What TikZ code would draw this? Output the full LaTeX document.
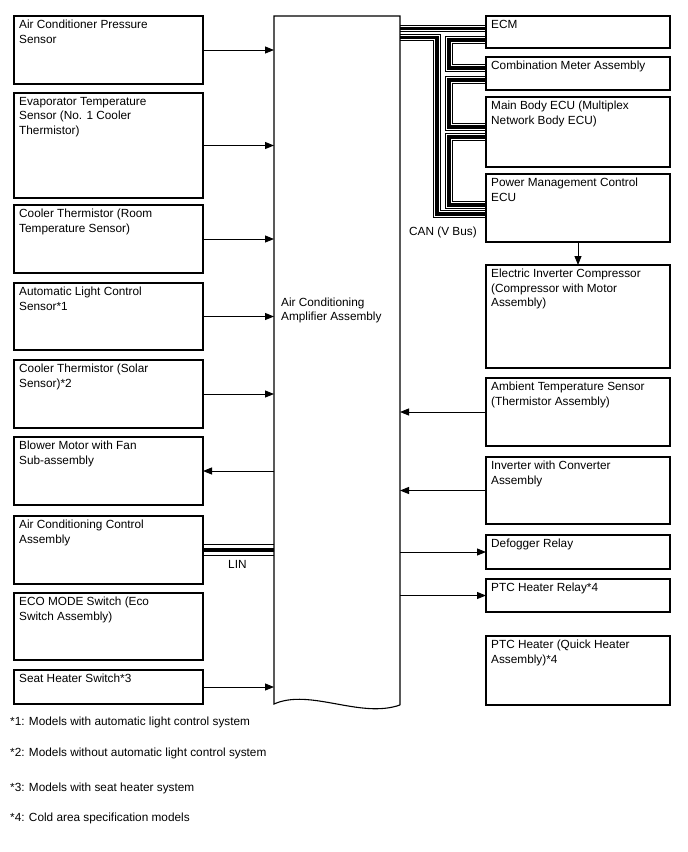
\documentclass[tikz,border=0pt]{standalone}
\usepackage{fontspec}
\setmainfont{Liberation Sans}
\usetikzlibrary{arrows.meta}
\pgfdeclarelayer{bg}
\pgfsetlayers{bg,main}
\begin{document}
\begin{tikzpicture}[x=1pt,y=1pt,
  box/.style={draw, line width=1.1pt, anchor=north west, inner sep=0pt, outer sep=0pt},
  lbox/.style={box, minimum width=189pt},
  rbox/.style={box, minimum width=184pt},
  txt/.style={anchor=north west, align=left, inner sep=0pt, font=\fontsize{11.8}{14.6}\selectfont},
  ftxt/.style={anchor=base west, inner sep=0pt, font=\fontsize{11.8}{14.6}\selectfont},
  arr/.style={line width=0.9pt, -{Triangle[length=9pt,width=7pt]}},
  cable/.style={line width=3.2pt, preaction={draw, line width=7.6pt}, preaction={draw, white, line width=5.6pt}},
  lincable/.style={line width=3.2pt, preaction={draw, line width=12pt}, preaction={draw, white, line width=10pt}}
]
\begin{pgfonlayer}{bg}
\fill[white] (0,0) rectangle (688,-852);
\end{pgfonlayer}
\path[use as bounding box] (0,0) rectangle (688,-852);

% central block
\node[anchor=north west, minimum width=126pt, minimum height=688pt, inner sep=0pt, outer sep=0pt] (amp) at (274,-16) {};
\draw[line width=1.1pt] ([yshift=-1pt]amp.south east) -- (amp.north east) -- (amp.north west) -- (amp.south west)
  .. controls (310,-688) and (360,-719) .. ([yshift=-1pt]amp.south east);
\node[txt] (tamp) at (281,-297.5) {Air Conditioning\\Amplifier Assembly};

% left boxes
\node[lbox, minimum height=68pt] (l1) at (14,-16) {};
\node[lbox, minimum height=105pt] (l2) at (14,-93) {};
\node[lbox, minimum height=68pt] (l3) at (14,-205) {};
\node[lbox, minimum height=67pt] (l4) at (14,-283) {};
\node[lbox, minimum height=68pt] (l5) at (14,-360) {};
\node[lbox, minimum height=68pt] (l6) at (14,-437) {};
\node[lbox, minimum height=68pt] (l7) at (14,-516) {};
\node[lbox, minimum height=67pt] (l8) at (14,-593) {};
\node[lbox, minimum height=34pt] (l9) at (14,-670) {};

\node[txt] (tl1) at ([shift={(5pt,-4pt)}]l1.north west) {Air Conditioner Pressure\\Sensor};
\node[txt] (tl2) at ([shift={(5pt,-4pt)}]l2.north west) {Evaporator Temperature\\Sensor (No. 1 Cooler\\Thermistor)};
\node[txt] (tl3) at ([shift={(5pt,-4pt)}]l3.north west) {Cooler Thermistor (Room\\Temperature Sensor)};
\node[txt] (tl4) at ([shift={(5pt,-4pt)}]l4.north west) {Automatic Light Control\\Sensor*1};
\node[txt] (tl5) at ([shift={(5pt,-4pt)}]l5.north west) {Cooler Thermistor (Solar\\Sensor)*2};
\node[txt] (tl6) at ([shift={(5pt,-4pt)}]l6.north west) {Blower Motor with Fan\\Sub-assembly};
\node[txt] (tl7) at ([shift={(5pt,-4pt)}]l7.north west) {Air Conditioning Control\\Assembly};
\node[txt] (tl8) at ([shift={(5pt,-4pt)}]l8.north west) {ECO MODE Switch (Eco\\Switch Assembly)};
\node[txt] (tl9) at ([shift={(5pt,-4pt)}]l9.north west) {Seat Heater Switch*3};

% right boxes
\node[rbox, minimum height=32pt] (r1) at (486,-16) {};
\node[rbox, minimum height=33pt] (r2) at (486,-57) {};
\node[rbox, minimum height=70pt] (r3) at (486,-97) {};
\node[rbox, minimum height=68pt] (r4) at (486,-174) {};
\node[rbox, minimum height=103pt] (r5) at (486,-265) {};
\node[rbox, minimum height=68pt] (r6) at (486,-378) {};
\node[rbox, minimum height=67pt] (r7) at (486,-457) {};
\node[rbox, minimum height=34pt] (r8) at (486,-535) {};
\node[rbox, minimum height=33pt] (r9) at (486,-579) {};
\node[rbox, minimum height=69pt] (r10) at (486,-636) {};

\node[txt] (tr1) at ([shift={(5pt,-4pt)}]r1.north west) {ECM};
\node[txt] (tr2) at ([shift={(5pt,-4pt)}]r2.north west) {Combination Meter Assembly};
\node[txt] (tr3) at ([shift={(5pt,-4pt)}]r3.north west) {Main Body ECU (Multiplex\\Network Body ECU)};
\node[txt] (tr4) at ([shift={(5pt,-4pt)}]r4.north west) {Power Management Control\\ECU};
\node[txt] (tr5) at ([shift={(5pt,-4pt)}]r5.north west) {Electric Inverter Compressor\\(Compressor with Motor\\Assembly)};
\node[txt] (tr6) at ([shift={(5pt,-4pt)}]r6.north west) {Ambient Temperature Sensor\\(Thermistor Assembly)};
\node[txt] (tr7) at ([shift={(5pt,-4pt)}]r7.north west) {Inverter with Converter\\Assembly};
\node[txt] (tr8) at ([shift={(5pt,-4pt)}]r8.north west) {Defogger Relay};
\node[txt] (tr9) at ([shift={(5pt,-4pt)}]r9.north west) {PTC Heater Relay*4};
\node[txt] (tr10) at ([shift={(5pt,-4pt)}]r10.north west) {PTC Heater (Quick Heater\\Assembly)*4};

% arrows
\draw[arr] (l1.east) -- (l1.east -| amp.west);
\draw[arr] (l2.east) -- (l2.east -| amp.west);
\draw[arr] (l3.east) -- (l3.east -| amp.west);
\draw[arr] (l4.east) -- (l4.east -| amp.west);
\draw[arr] (l5.east) -- (l5.east -| amp.west);
\draw[arr] (l6.east -| amp.west) -- (l6.east);
\draw[arr] (l9.east) -- (l9.east -| amp.west);
\draw[arr] (r6.west) -- (r6.west -| amp.east);
\draw[arr] (r7.west) -- (r7.west -| amp.east);
\draw[arr] (r8.west -| amp.east) -- (r8.west);
\draw[arr] (r9.west -| amp.east) -- (r9.west);
\draw[arr] (r4.south) -- (r5.north);

% buses
\begin{pgfonlayer}{bg}
\draw[cable] ([yshift=-12.5pt]amp.north east) -- ([yshift=-12.5pt]r1.north west);
\draw[cable] ([yshift=-21.5pt]amp.north east) -- ++(37,0) |- ([yshift=-40pt]r4.north west);
\draw[cable] ([yshift=-24pt]r1.north west) -- ++(-37,0) |- ([yshift=-11pt]r2.north west);
\draw[cable] ([yshift=-23pt]r2.north west) -- ++(-37,0) |- ([yshift=-30pt]r3.north west);
\draw[cable] ([yshift=-40pt]r3.north west) -- ++(-37,0) |- ([yshift=-31pt]r4.north west);
\draw[lincable] (l7.east) -- (l7.east -| amp.west);
\end{pgfonlayer}
\node[ftxt] (can) at (409,-235) {CAN (V Bus)};
\node[ftxt] (lin) at (228,-568) {LIN};

% footnotes
\node[ftxt] (f1) at (10,-725) {*1: Models with automatic light control system};
\node[ftxt] (f2) at (10,-756) {*2: Models without automatic light control system};
\node[ftxt] (f3) at (10,-791) {*3: Models with seat heater system};
\node[ftxt] (f4) at (10,-821) {*4: Cold area specification models};
\end{tikzpicture}
\end{document}
